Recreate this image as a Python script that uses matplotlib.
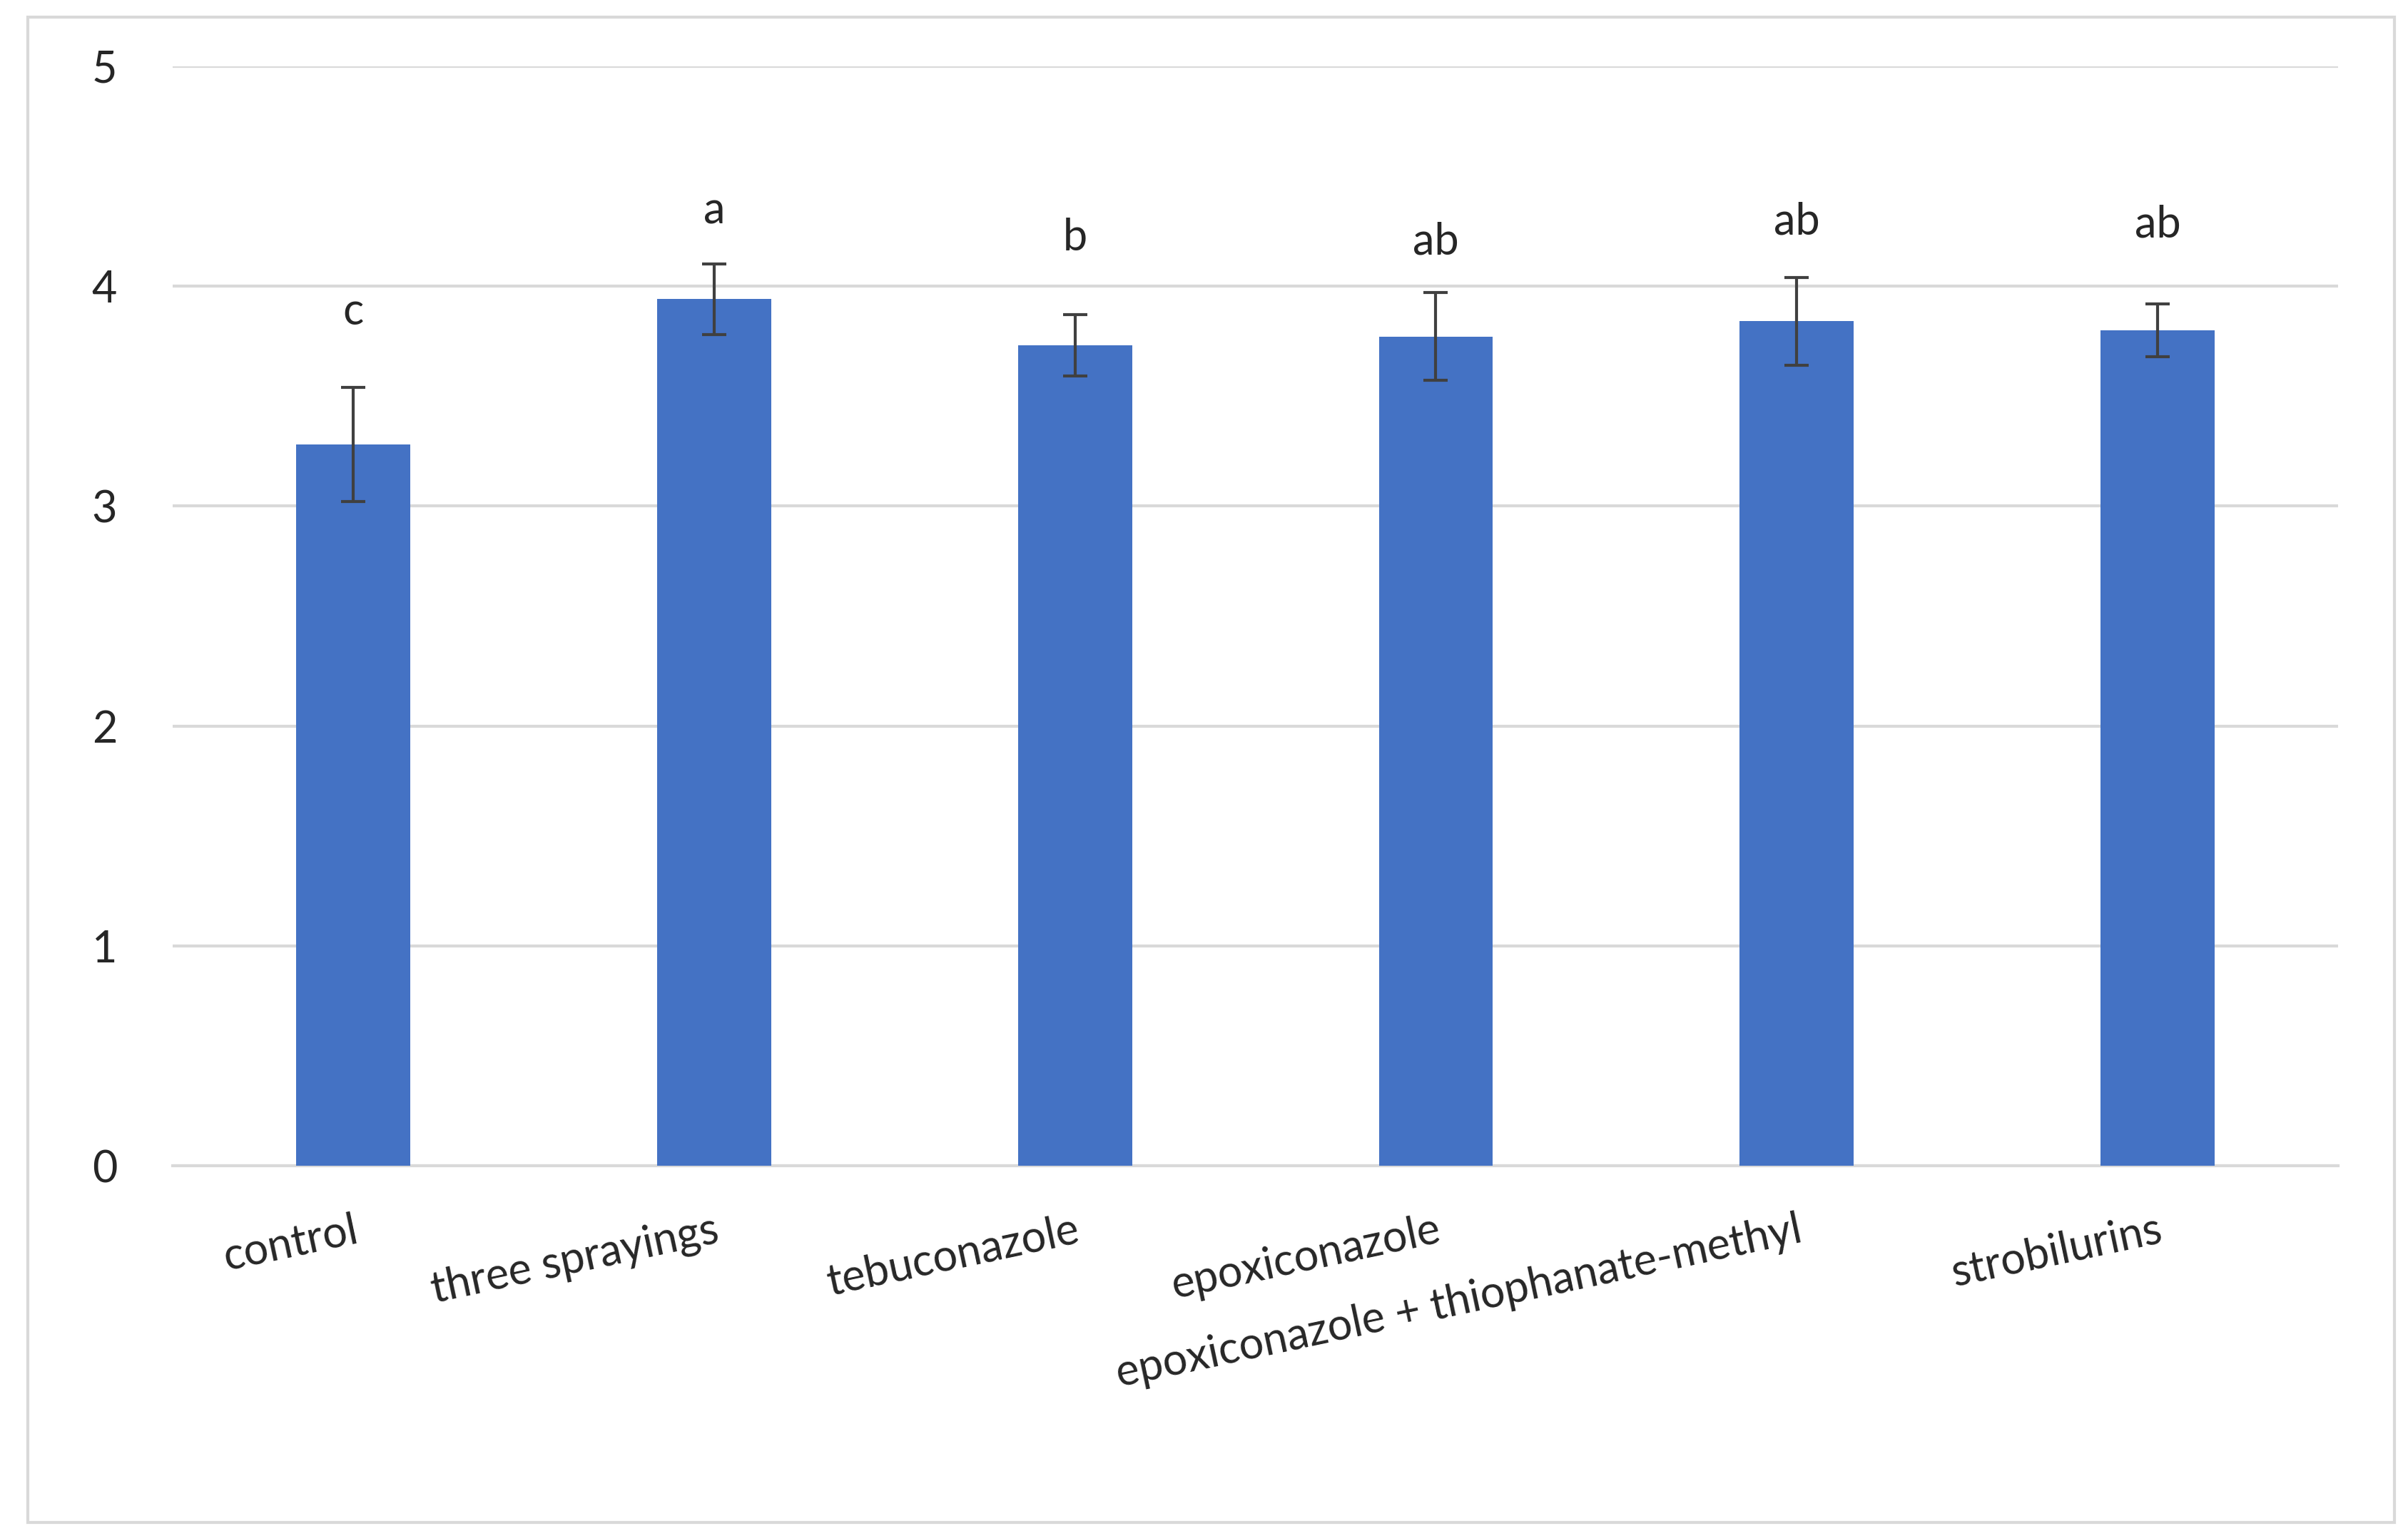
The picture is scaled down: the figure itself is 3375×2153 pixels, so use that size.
import matplotlib
matplotlib.use("Agg")
import matplotlib.pyplot as plt
from matplotlib.patches import Rectangle

categories = ["control", "three sprayings", "tebuconazole", "epoxiconazole",
              "epoxiconazole + thiophanate-methyl", "strobilurins"]
values = [3.28, 3.94, 3.73, 3.77, 3.84, 3.80]
errors = [0.26, 0.16, 0.14, 0.20, 0.20, 0.12]
letters = ["c", "a", "b", "ab", "ab", "ab"]
letter_y = [3.88, 4.34, 4.22, 4.20, 4.29, 4.28]
yticks = [0, 1, 2, 3, 4, 5]

plt.rcParams['font.family'] = ['Lato', 'DejaVu Sans']
fig = plt.figure(figsize=(16.875, 10.765), dpi=200)
fig.patches.append(Rectangle((0.0115, 0.009), 0.983, 0.98, transform=fig.transFigure,
                             fill=False, edgecolor='#d9d9d9', linewidth=1.5))
ax = fig.add_axes([0.0717, 0.241, 0.8993, 0.716])
x = list(range(len(categories)))
ax.bar(x, values, width=0.316, color='#4472C4', zorder=3)
ax.errorbar(x, values, yerr=errors, fmt='none', ecolor='#404040', elinewidth=1.5,
            capsize=6, capthick=1.5, zorder=4)
for xi, l, ly in zip(x, letters, letter_y):
    ax.text(xi, ly, l, ha='center', va='center', fontsize=22, color='#262626')
ax.set_ylim(0, 5)
ax.set_xlim(-0.5, 5.5)
ax.set_yticks(yticks)
ax.tick_params(axis='y', length=0, labelsize=22, colors='#262626', pad=28)
ax.yaxis.grid(True, color='#d9d9d9', linewidth=1.5, zorder=0)
ax.set_xticks(x)
ax.set_xticklabels(categories, rotation=12, ha='right', rotation_mode='anchor',
                   fontsize=22, color='#262626')
ax.tick_params(axis='x', length=0, pad=22)
for s in ['top', 'right', 'left']:
    ax.spines[s].set_visible(False)
ax.spines['bottom'].set_color('#d9d9d9')
ax.spines['bottom'].set_linewidth(1.5)
fig.savefig("out.png", dpi=200)
